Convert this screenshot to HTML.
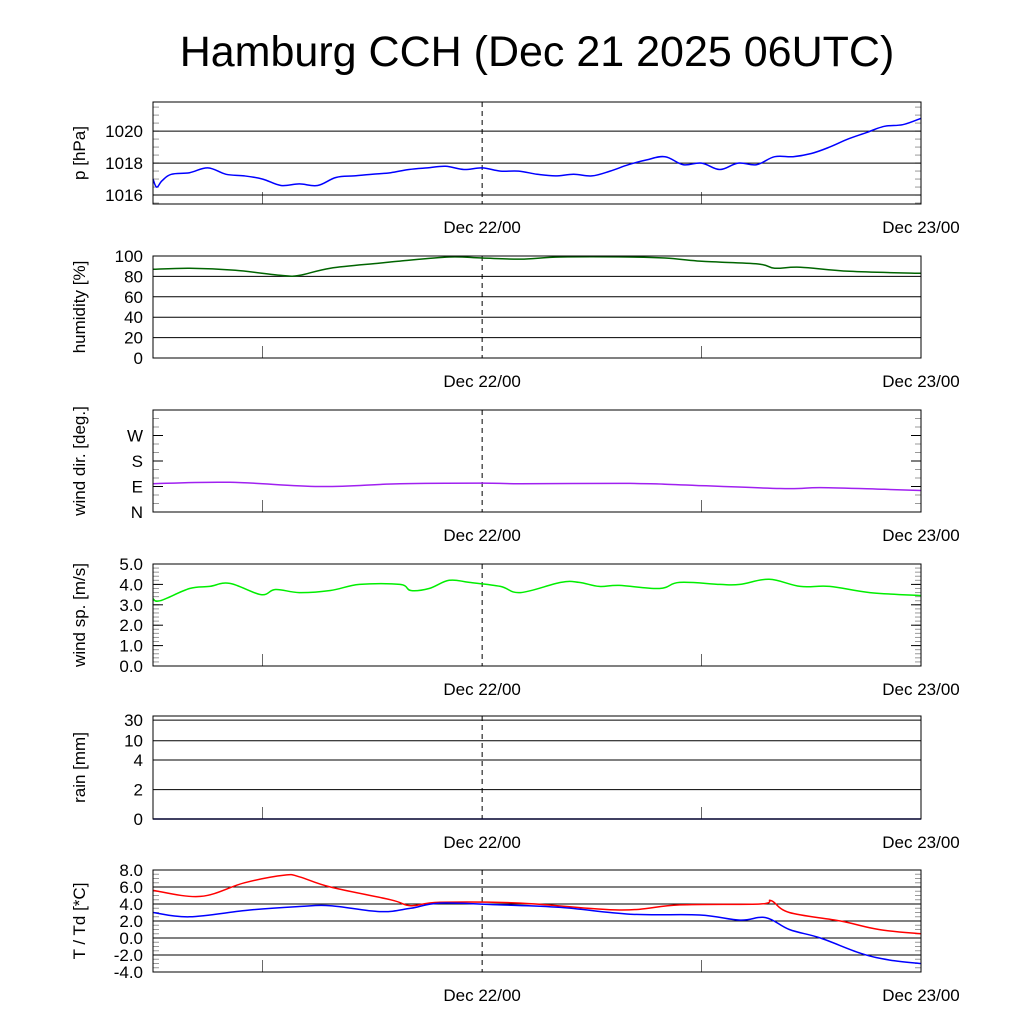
<!DOCTYPE html>
<html><head><meta charset="utf-8"><style>
html,body{margin:0;padding:0;background:#fff;}
svg text{font-family:"Liberation Sans",sans-serif;}
</style></head><body>
<svg id="c" width="1024" height="1024" xmlns="http://www.w3.org/2000/svg">
<text x="537" y="66" font-size="43" text-anchor="middle">Hamburg CCH (Dec 21 2025 06UTC)</text>
</svg>
<script>
// hours since Dec 21 06UTC
const pHours=[0,0.2,0.5,1,2,3,4,5,6,7,8,9,10,11,12,13,14,15,16,17,18,19,20,21,22,23,24,25,26,27,28,29,30,31,32,33,34,35,36,37,38,39,40,41,42];
const pVals=[1017.0,1016.5,1016.9,1017.3,1017.4,1017.7,1017.3,1017.2,1017.0,1016.6,1016.7,1016.6,1017.1,1017.2,1017.3,1017.4,1017.6,1017.7,1017.8,1017.6,1017.7,1017.5,1017.5,1017.3,1017.2,1017.3,1017.2,1017.5,1017.9,1018.2,1018.4,1017.9,1018.0,1017.6,1018.0,1017.9,1018.4,1018.4,1018.6,1019.0,1019.5,1019.9,1020.3,1020.4,1020.8];
const hHours=[0,2,4.5,7,8,9.7,12.4,13.5,16.2,18,20.1,22.3,26,28,29.9,31,33.2,34,35.4,38.1,42];
const hVals=[87,88,86,81,81,88,93,95,99,98,97,99,99,98,95,94,92,88,89,85,83];
const dHours=[0,4.2,9.1,13.5,18,20.1,25.5,28,34.3,36.5,40,42];
const dVals=[100,105,90,100,102,100,101,98,83,86,80,76];
const sHours=[0,0.4,2,3.1,4.2,5.9,6.7,8,9.7,11.3,13.5,14.1,15.1,16.2,17.3,19,20.1,22.3,23.3,24.4,25.5,27.7,28.8,31,32.1,33.7,35.4,37,39.2,42];
const sVals=[3.3,3.2,3.8,3.9,4.05,3.5,3.75,3.6,3.7,4.0,4.0,3.7,3.8,4.2,4.1,3.9,3.6,4.1,4.1,3.9,3.95,3.8,4.1,4.0,4.0,4.25,3.9,3.9,3.6,3.45];
const tHours=[0,2.6,5,7.2,8,9.7,13,14.1,15.7,20.1,25.5,28.8,33.2,33.8,34.8,37.6,39.7,42];
const tVals=[5.6,4.9,6.5,7.4,7.2,6.0,4.5,3.8,4.2,4.1,3.3,3.9,4.0,4.4,3.0,2.0,1.0,0.5];
const tdHours=[0,2,5.3,8,9.7,12.4,14.1,15.7,19,22.3,26.1,29.9,32.1,33.5,34.8,36.5,38.7,40.3,42];
const tdVals=[3.0,2.5,3.3,3.7,3.8,3.1,3.5,4.1,3.9,3.6,2.8,2.7,2.1,2.4,1.0,0.0,-1.8,-2.6,-3.0];
const rainHours=[0,42];
const rainVals=[0,0];

const svg=document.getElementById('c');
const NS='http://www.w3.org/2000/svg';
const X0=153,X1=921,HT=42;
function xs(h){return X0+(X1-X0)*h/HT;}
function mk(tag,attrs,parent){const e=document.createElementNS(NS,tag);for(const k in attrs)e.setAttribute(k,attrs[k]);(parent||svg).appendChild(e);return e;}
function smooth(pts){
 let d='M'+pts[0][0].toFixed(1)+','+pts[0][1].toFixed(1);
 for(let i=0;i<pts.length-1;i++){
  const p0=pts[Math.max(0,i-1)],p1=pts[i],p2=pts[i+1],p3=pts[Math.min(pts.length-1,i+2)];
  const t=0.18;
  const c1=[p1[0]+(p2[0]-p0[0])*t,p1[1]+(p2[1]-p0[1])*t];
  const c2=[p2[0]-(p3[0]-p1[0])*t,p2[1]-(p3[1]-p1[1])*t];
  d+=` C${c1[0].toFixed(1)},${c1[1].toFixed(1)} ${c2[0].toFixed(1)},${c2[1].toFixed(1)} ${p2[0].toFixed(1)},${p2[1].toFixed(1)}`;
 }
 return d;
}

const panels=[
 {name:'pressure',top:102,bot:204,min:1015.44,max:1021.82,ticks:[1016,1018,1020],labels:['1016','1018','1020'],minor:0.5,title:'p [hPa]',series:[[pHours,pVals,'#0000ff']]},
 {name:'humidity',top:256,bot:358,min:0,max:100,ticks:[0,20,40,60,80,100],labels:['0','20','40','60','80','100'],minor:null,title:'humidity [%]',series:[[hHours,hVals,'#006400']]},
 {name:'wind-direction',top:410,bot:512,min:0,max:360,ticks:[0,90,180,270],labels:['N','E','S','W'],minor:30,grid:false,title:'wind dir. [deg.]',series:[[dHours,dVals,'#a020f0']]},
 {name:'wind-speed',top:564,bot:666,min:0,max:5,ticks:[0,1,2,3,4,5],labels:['0.0','1.0','2.0','3.0','4.0','5.0'],minor:0.2,grid:false,title:'wind sp. [m/s]',series:[[sHours,sVals,'#00ee00']]},
 {name:'rain',top:716,bot:819,min:0,max:1,ticks:[0,0.285,0.573,0.76,0.96],labels:['0','2','4','10','30'],minor:null,title:'rain [mm]',series:[[rainHours,rainVals,'#00008b']]},
 {name:'temperature',top:870,bot:972,min:-4,max:8,ticks:[-4,-2,0,2,4,6,8],labels:['-4.0','-2.0','0.0','2.0','4.0','6.0','8.0'],minor:0.5,title:'T / Td [*C]',series:[[tHours,tVals,'#ff0000'],[tdHours,tdVals,'#0000ff']]}
];
panels.forEach(p=>{
 const g=mk('g',{});
 
 
 const ys=v=>p.bot-(p.bot-p.top)*(v-p.min)/(p.max-p.min);
 if(p.minor){for(let v=Math.ceil(p.min/p.minor)*p.minor;v<=p.max;v+=p.minor){const y=ys(v);mk('line',{x1:X0,x2:X0+6,y1:y,y2:y,stroke:'#999','stroke-width':1},g);mk('line',{x1:X1-6,x2:X1,y1:y,y2:y,stroke:'#999','stroke-width':1},g);}}
 p.ticks.forEach((t,i)=>{const y=ys(t);
  if(p.grid!==false)mk('line',{x1:X0,x2:X1,y1:y,y2:y,stroke:'#000','stroke-width':1},g);
  else{mk('line',{x1:X0,x2:X0+10,y1:y,y2:y,stroke:'#000'},g);mk('line',{x1:X1-10,x2:X1,y1:y,y2:y,stroke:'#000'},g);}
  const tx=mk('text',{x:143,y:y+6,'font-size':17,'text-anchor':'end'},g);tx.textContent=p.labels[i];
  
  
 });
 [6,30].forEach(h=>mk('line',{x1:xs(h),x2:xs(h),y1:p.bot-12,y2:p.bot,stroke:'#000','stroke-width':0.6},g));
 mk('line',{x1:xs(18),x2:xs(18),y1:p.top,y2:p.bot,stroke:'#000','stroke-dasharray':'5,4','stroke-width':1},g);
 p.series.forEach(s=>{
  const pts=s[0].map((h,i)=>[xs(h),ys(s[1][i])]);
  const pl=mk('path',{d:smooth(pts),fill:'none',stroke:s[2],'stroke-width':1.5,'stroke-linejoin':'round'},g);
  
  
 });
 mk('rect',{x:X0,y:p.top,width:X1-X0,height:p.bot-p.top,fill:'none',stroke:'#000','stroke-width':1},g);
 const tt=mk('text',{transform:`translate(85,${(p.top+p.bot)/2}) rotate(-90)`,'font-size':17,'text-anchor':'middle'},g);
 tt.textContent=p.title;
 
 
 [['Dec 22/00',xs(18)],['Dec 23/00',xs(42)]].forEach(a=>{const t=mk('text',{x:a[1],y:p.bot+29,'font-size':17,'text-anchor':'middle'},g);t.textContent=a[0];
  
  });
});
</script>
</body></html>
